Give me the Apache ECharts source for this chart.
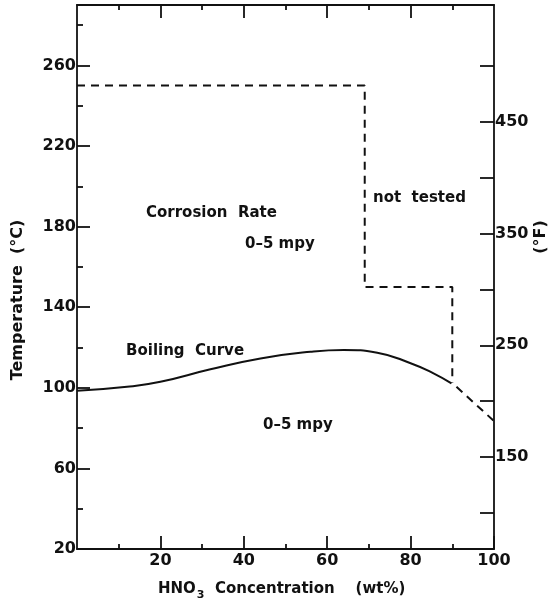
<!DOCTYPE html>
<html>
<head>
<meta charset="utf-8">
<script src="https://cdn.jsdelivr.net/npm/echarts@6/dist/echarts.min.js"></script>
<style>html,body{margin:0;padding:0;background:#fff}#c{width:557px;height:608px}</style>
</head>
<body>
<div id="c"></div>
<script>
// ---- data ----
var boilingConc = [0, 12, 20, 32, 44, 56, 64, 72, 80, 85.5, 89.8];
var boilingTemp = [98.5, 100.5, 103, 109.2, 114.6, 117.9, 118.8, 117.4, 112.2, 107.2, 102.2];
var boilingExtConc = [91, 100];
var boilingExtTemp = [100.5, 83.5];
var boundaryConc = [0, 69, 69, 90, 90];
var boundaryTemp = [250, 250, 150, 150, 102.5];
var xMajorTicks = [20, 40, 60, 80, 100];
var xMinorTicks = [10, 30, 50, 70, 90];
var xTopMajorTicks = [20, 40, 60, 80];
var yMajorTicks = [20, 60, 100, 140, 180, 220, 260];
var yMinorTicks = [40, 80, 120, 160, 200, 240, 280];
var fTicks = [100, 150, 200, 250, 300, 350, 400, 450, 500];
var fLabels = [150, 250, 350, 450];
var tMinC = 20, tMaxC = 290;

function pairs(xs, ys) { return xs.map(function (x, i) { return [x, ys[i]]; }); }
function cToF(c) { return c * 9 / 5 + 32; }

var FONT = 'DejaVu Sans';
var lineCol = '#111';
var chart = echarts.init(document.getElementById('c'), null, { renderer: 'canvas' });

function xAx(pos, ticks, len, labels, showLine) {
  return {
    type: 'value', position: pos, min: 0, max: 100, gridIndex: 0,
    axisLine: { show: showLine, onZero: false, lineStyle: { color: lineCol, width: 1.8 } },
    axisTick: { show: true, inside: true, length: len, customValues: ticks, lineStyle: { color: lineCol, width: 1.8 } },
    axisLabel: labels ? { show: true, customValues: labels, margin: 4, color: '#111', fontFamily: FONT, fontWeight: 'bold', fontSize: 16 } : { show: false },
    splitLine: { show: false }
  };
}
function yAx(pos, ticks, len, labels, showLine) {
  return {
    type: 'value', position: pos, min: tMinC, max: tMaxC,
    axisLine: { show: showLine, onZero: false, lineStyle: { color: lineCol, width: 1.8 } },
    axisTick: { show: true, inside: true, length: len, customValues: ticks, lineStyle: { color: lineCol, width: 1.8 } },
    axisLabel: labels ? { show: true, customValues: labels, margin: 1, color: '#111', fontFamily: FONT, fontWeight: 'bold', fontSize: 16 } : { show: false },
    splitLine: { show: false }
  };
}

var fAxis = {
  type: 'value', position: 'right', min: cToF(tMinC), max: cToF(tMaxC),
  axisLine: { show: true, onZero: false, lineStyle: { color: lineCol, width: 1.8 } },
  axisTick: { show: true, inside: true, length: 14, customValues: fTicks, lineStyle: { color: lineCol, width: 1.8 } },
  axisLabel: { show: true, customValues: fLabels, margin: 1, color: '#111', fontFamily: FONT, fontWeight: 'bold', fontSize: 16 },
  splitLine: { show: false }
};

var dashStyle = { color: lineCol, width: 2, type: [8, 6] };

var option = {
  animation: false,
  backgroundColor: '#fff',
  grid: { left: 77, right: 63, top: 5, bottom: 59, containLabel: false },
  xAxis: [
    xAx('bottom', xMajorTicks, 13, xMajorTicks, true),
    xAx('bottom', xMinorTicks, 5, null, false),
    xAx('top', xTopMajorTicks, 13, null, true),
    xAx('top', xMinorTicks, 5, null, false)
  ],
  yAxis: [
    yAx('left', yMajorTicks, 13, yMajorTicks, true),
    yAx('left', yMinorTicks, 6, null, false),
    fAxis
  ],
  series: [
    { type: 'line', xAxisIndex: 0, yAxisIndex: 0, data: pairs(boilingConc, boilingTemp), smooth: 0.5,
      showSymbol: false, symbol: 'none', lineStyle: { color: lineCol, width: 2 } },
    { type: 'line', xAxisIndex: 0, yAxisIndex: 0, data: pairs(boilingExtConc, boilingExtTemp),
      showSymbol: false, symbol: 'none', lineStyle: dashStyle },
    { type: 'line', xAxisIndex: 0, yAxisIndex: 0, data: pairs(boundaryConc, boundaryTemp),
      showSymbol: false, symbol: 'none', lineStyle: dashStyle }
  ],
  graphic: [
    { type: 'text', left: 146, top: 206, style: { text: 'Corrosion  Rate', font: 'bold 15px "DejaVu Sans"', fill: '#111' } },
    { type: 'text', left: 245, top: 237, style: { text: '0\u20135 mpy', font: 'bold 15px "DejaVu Sans"', fill: '#111' } },
    { type: 'text', left: 373, top: 191, style: { text: 'not  tested', font: 'bold 15px "DejaVu Sans"', fill: '#111' } },
    { type: 'text', left: 126, top: 344, style: { text: 'Boiling  Curve', font: 'bold 15px "DejaVu Sans"', fill: '#111' } },
    { type: 'text', left: 263, top: 418, style: { text: '0\u20135 mpy', font: 'bold 15px "DejaVu Sans"', fill: '#111' } },
    { type: 'text', x: 18, y: 300, rotation: Math.PI / 2,
      style: { text: 'Temperature  (\u00b0C)', font: 'bold 16px "DejaVu Sans"', fill: '#111', align: 'center', verticalAlign: 'middle' } },
    { type: 'text', x: 541, y: 237, rotation: Math.PI / 2,
      style: { text: '(\u00b0F)', font: 'bold 16px "DejaVu Sans"', fill: '#111', align: 'center', verticalAlign: 'middle' } },
    { type: 'text', x: 158, y: 582,
      style: { text: '{a|HNO}{s|3}{a|  Concentration    (wt%)}', fill: '#111',
        rich: { a: { fontFamily: FONT, fontWeight: 'bold', fontSize: 15, lineHeight: 22, verticalAlign: 'top' },
                s: { fontFamily: FONT, fontWeight: 'bold', fontSize: 11, padding: [8, 0, 0, 1], lineHeight: 22, verticalAlign: 'top' } } } }
  ]
};
chart.setOption(option);
</script>
</body>
</html>
